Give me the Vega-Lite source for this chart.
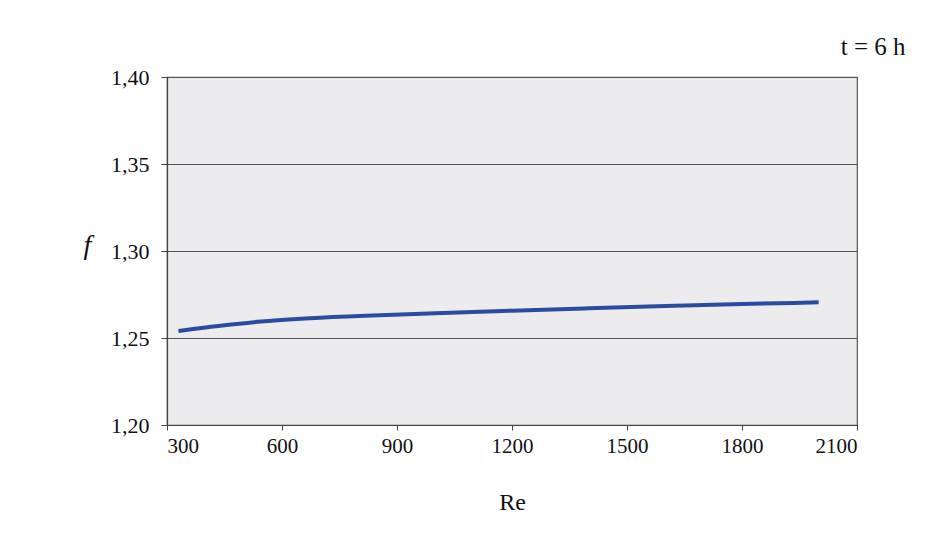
{
  "$schema": "https://vega.github.io/schema/vega-lite/v6.json",
  "width": 690,
  "height": 348,
  "autosize": "none",
  "padding": {"left": 167, "top": 77, "right": 92, "bottom": 118},
  "background": "white",
  "config": {
    "locale": {"number": {"decimal": ",", "thousands": "", "grouping": [3], "currency": ["", ""]}},
    "view": {"fill": "#ececef", "stroke": "#555555", "strokeWidth": 1.2},
    "font": "Liberation Serif"
  },
  "title": {
    "text": "t = 6 h",
    "anchor": "end",
    "font": "Liberation Serif",
    "fontSize": 25,
    "fontWeight": "normal",
    "color": "#111111",
    "dx": 48,
    "offset": 6
  },
  "data": {
    "values": [
      {"Re": 330, "f": 1.2540},
      {"Re": 450, "f": 1.2573},
      {"Re": 545, "f": 1.2595},
      {"Re": 650, "f": 1.2611},
      {"Re": 800, "f": 1.2626},
      {"Re": 1000, "f": 1.2642},
      {"Re": 1200, "f": 1.2657},
      {"Re": 1400, "f": 1.2671},
      {"Re": 1600, "f": 1.2684},
      {"Re": 1800, "f": 1.2695},
      {"Re": 2000, "f": 1.2705}
    ]
  },
  "mark": {"type": "line", "color": "#2b4c9e", "strokeWidth": 4, "interpolate": "monotone"},
  "encoding": {
    "x": {
      "field": "Re",
      "type": "quantitative",
      "scale": {"domain": [300, 2100], "nice": false, "zero": false},
      "axis": {
        "values": [300, 600, 900, 1200, 1500, 1800, 2100],
        "format": "d",
        "grid": false,
        "title": "Re",
        "titleFont": "Liberation Serif",
        "titleFontSize": 24,
        "titleFontWeight": "normal",
        "titleColor": "#111111",
        "titlePadding": 34,
        "labelFont": "Liberation Serif",
        "labelFontSize": 21,
        "labelColor": "#111111",
        "labelPadding": 5,
        "tickSize": 5,
        "tickColor": "#444444",
        "domainColor": "#444444",
        "domainWidth": 1.2
      }
    },
    "y": {
      "field": "f",
      "type": "quantitative",
      "scale": {"domain": [1.2, 1.4], "nice": false, "zero": false},
      "axis": {
        "values": [1.2, 1.25, 1.3, 1.35, 1.4],
        "format": ".2f",
        "grid": true,
        "gridColor": "#555555",
        "gridWidth": 1,
        "title": "f",
        "titleFont": "Liberation Serif",
        "titleFontStyle": "italic",
        "titleFontWeight": "normal",
        "titleFontSize": 28,
        "titleColor": "#111111",
        "titleAngle": 0,
        "titleX": -80,
        "titleY": 182,
        "titleAlign": "center",
        "labelFont": "Liberation Serif",
        "labelFontSize": 22,
        "labelColor": "#111111",
        "labelPadding": 12,
        "tickSize": 6,
        "tickColor": "#444444",
        "domainColor": "#444444",
        "domainWidth": 1.2
      }
    }
  }
}
